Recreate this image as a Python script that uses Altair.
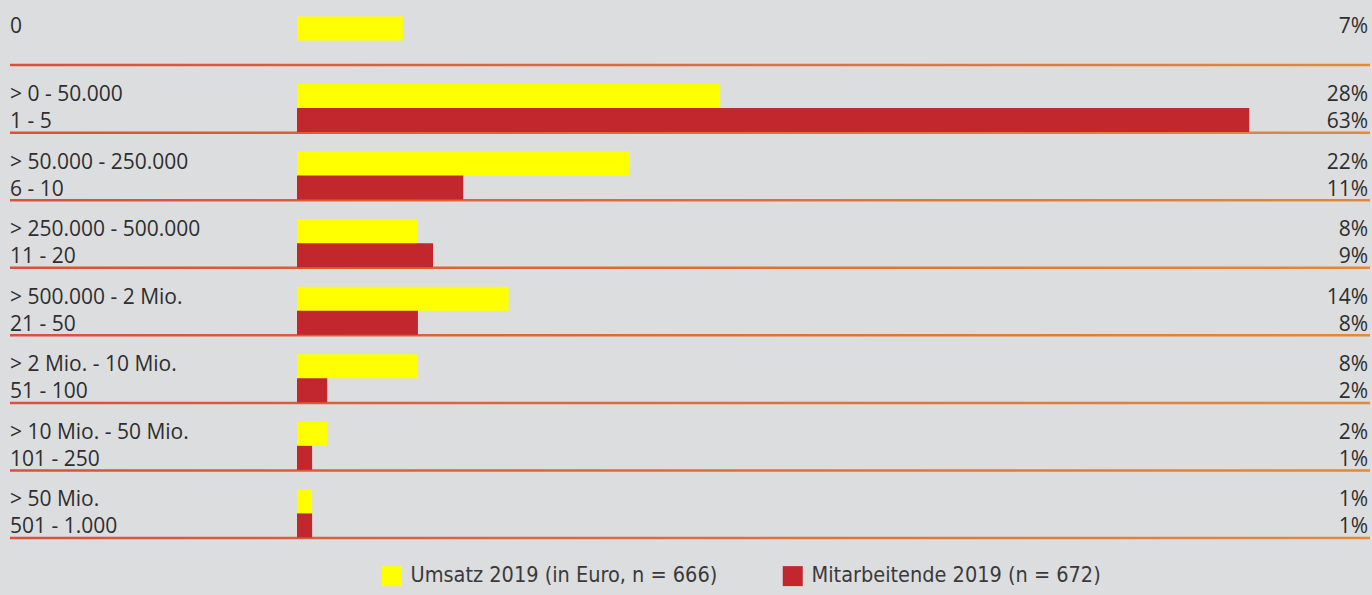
import altair as alt
import pandas as pd

# ---- data ----
rows = ["r0", "r1", "r2", "r3", "r4", "r5", "r6", "r7"]
umsatz_labels = ["0", "> 0 - 50.000", "> 50.000 - 250.000", "> 250.000 - 500.000",
                 "> 500.000 - 2 Mio.", "> 2 Mio. - 10 Mio.", "> 10 Mio. - 50 Mio.", "> 50 Mio."]
staff_labels = [None, "1 - 5", "6 - 10", "11 - 20", "21 - 50", "51 - 100", "101 - 250", "501 - 1.000"]
umsatz_values = [7, 28, 22, 8, 14, 8, 2, 1]
staff_values = [None, 63, 11, 9, 8, 2, 1, 1]

S_U = "Umsatz 2019 (in Euro, n = 666)"
S_M = "Mitarbeitende 2019 (n = 672)"
series = [S_U, S_M]
colors = ["#ffff00", "#c1272d"]

recs = []
for r, ul, sl, uv, sv in zip(rows, umsatz_labels, staff_labels, umsatz_values, staff_values):
    recs.append({"row": r, "series": S_U, "label": ul, "value": uv, "pct": f"{uv}%"})
    if sv is not None:
        recs.append({"row": r, "series": S_M, "label": sl, "value": sv, "pct": f"{sv}%"})
df = pd.DataFrame(recs)
sep = pd.DataFrame({"row": rows, "kind": ["sep"] * len(rows)})

W, H = 1372, 595
FONT = "Open Sans"
LEG_FONT = "Liberation Sans Narrow, DejaVu Sans Condensed, Open Sans"
TXT = "#2e2e2e"

yscale = alt.Scale(domain=rows, range=[-1.6, 539], paddingInner=0, paddingOuter=0)
yoff = alt.Scale(domain=series, range=[18, 66], paddingInner=0, paddingOuter=0)
sepoff = alt.Scale(domain=["sep"], range=[65.4, 67.9], paddingInner=0, paddingOuter=0)
xscale = alt.Scale(domain=[0, 70], range=[297, 1355], nice=False, zero=True)

base = alt.Chart(df)

bars = base.mark_bar().encode(
    x=alt.X("value:Q", scale=xscale, axis=None),
    y=alt.Y("row:N", scale=yscale, axis=None),
    yOffset=alt.YOffset("series:N", scale=yoff),
    color=alt.Color("series:N", scale=alt.Scale(domain=series, range=colors),
                    legend=alt.Legend(title=None, orient="none", legendX=381, legendY=565,
                                      direction="horizontal", symbolType="square",
                                      symbolSize=400, symbolStrokeWidth=0,
                                      labelFont=LEG_FONT, labelFontSize=21.5,
                                      labelColor="#3a3a3a", labelOffset=8,
                                      columnPadding=64, labelLimit=500)),
)


def text_layer(s, field, x, align, dy):
    return base.transform_filter(alt.datum.series == s).mark_text(
        align=align, baseline="middle", font=FONT, fontSize=21, color=TXT, dy=dy
    ).encode(
        x=alt.value(x),
        y=alt.Y("row:N", scale=yscale, axis=None),
        yOffset=alt.YOffset("series:N", scale=yoff),
        text=f"{field}:N",
    )


texts = [
    text_layer(S_U, "label", 10, "left", -1),
    text_layer(S_M, "label", 10, "left", 2),
    text_layer(S_U, "pct", 1368, "right", -1),
    text_layer(S_M, "pct", 1368, "right", 2),
]

grad = alt.Gradient(gradient="linear",
                    stops=[alt.GradientStop(color="#d9503f", offset=0),
                           alt.GradientStop(color="#e08a3a", offset=1)],
                    x1=0, x2=1, y1=0, y2=0)
seps = alt.Chart(sep).mark_rect(fill=grad).encode(
    x=alt.value(10), x2=alt.value(1370),
    y=alt.Y("row:N", scale=yscale, axis=None),
    yOffset=alt.YOffset("kind:N", scale=sepoff),
)

inner = alt.layer(bars, *texts)
chart = alt.layer(seps, inner).resolve_scale(yOffset="independent").properties(
    width=W, height=H, background="#dcdddf", padding=0,
    autosize=alt.AutoSizeParams(type="none"),
).configure_view(stroke=None)

chart.save("out.html", embed_options={"renderer": "svg", "actions": False})
